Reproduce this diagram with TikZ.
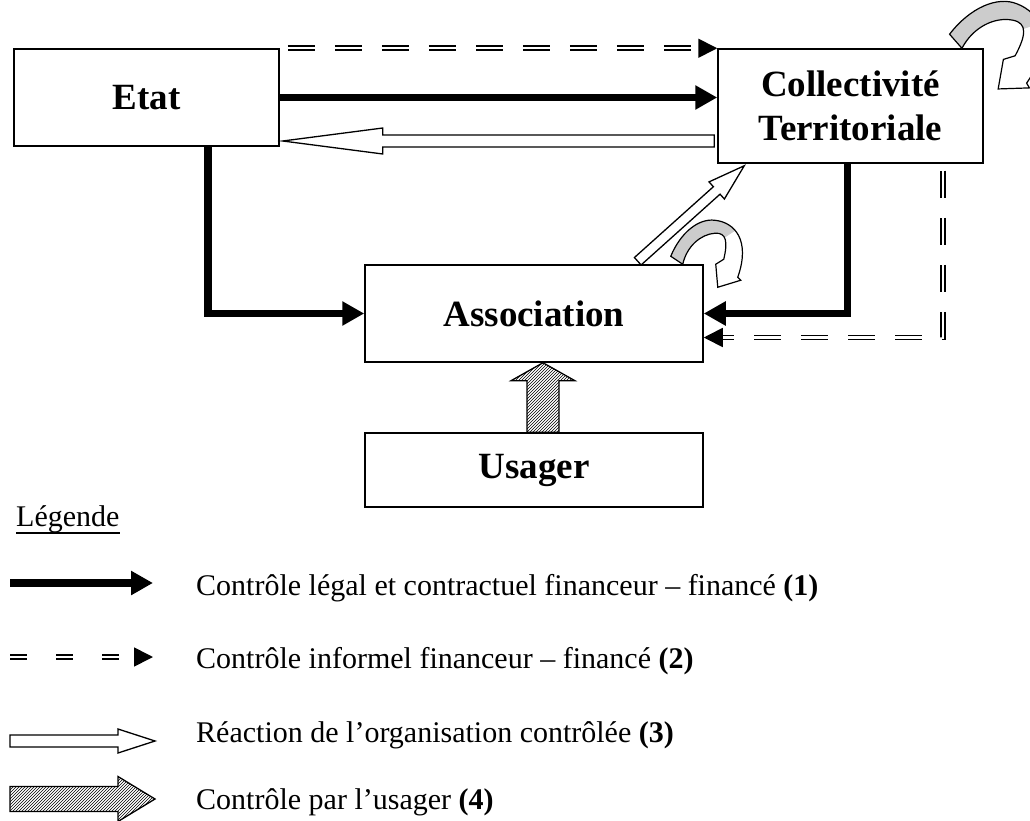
\documentclass[tikz,border=0pt]{standalone}
\usepackage{fontspec}
\setmainfont{Liberation Serif}
\usetikzlibrary{arrows.meta,calc,patterns}

\definecolor{curlgray}{gray}{0.8}

% outline of the curled arrow, local units, start of the band at the origin
\def\curlshape{(-6,4) .. controls (4,28) and (22,42) .. (38,40)
  .. controls (58,38) and (74,20) .. (61,-17) -- (64,-20) -- (41,-27) -- (39,-4) -- (47,1)
  .. controls (51,18) and (50,28) .. (38,27) .. controls (24,26) and (10,14) .. (6,-4) -- cycle}

% wide arrow: [style]{tail}{tip}{half shaft}{half head}{head length}
\newcommand\fatarrow[6][]{%
  \coordinate (fatbase) at ($(#3)!#6!(#2)$);
  \draw[#1] ($(#2)!#4!-90:(#3)$) -- ($(fatbase)!#4!-90:(#3)$) -- ($(fatbase)!#5!-90:(#3)$) -- (#3)
    -- ($(fatbase)!#5!90:(#3)$) -- ($(fatbase)!#4!90:(#3)$) -- ($(#2)!#4!90:(#3)$) -- cycle;
}

\tikzset{curl/.pic={
    \fill[white] \curlshape;
    \begin{scope}
      \clip (-20,-10) -- (22,-10) -- (44,20) -- (62,32) -- (62,60) -- (-20,60) -- cycle;
      \fill[curlgray] \curlshape;
    \end{scope}
    \draw[line width=1.2pt] \curlshape;
}}

\begin{document}
\begin{tikzpicture}[x=1pt,y=1pt]
        \tikzstyle{boxnode}=[draw, line width=1.5pt, inner sep=0pt, align=center, font=\bfseries\fontsize{37}{44}\selectfont]
        \tikzstyle{legtext}=[inner sep=0pt, anchor=base west, font=\fontsize{30}{36}\selectfont]
        \tikzstyle{legal}=[line width=7.5pt, -{Triangle[length=22pt,width=23pt]}]
        \tikzstyle{informal}=[double, line width=1.7pt, double distance=2.2pt, dash pattern=on 27pt off 20pt, -{Triangle[length=19pt,width=19pt]}]
        \tikzstyle{hollow}=[draw, fill=white, line width=1.3pt]
        \tikzstyle{hatched}=[draw, pattern=north east lines, line width=1.3pt]
        \useasboundingbox (0,0) rectangle (1030,-821);
        % boxes
        \node[boxnode, minimum width=265pt, minimum height=97pt] (etat) at (146.5,-97.5) {Etat};
        \node[boxnode, minimum width=265pt, minimum height=114pt] (coll) at (850.5,-106) {Collectivité\\Territoriale};
        \node[boxnode, minimum width=338pt, minimum height=97pt] (assoc) at (534,-313.5) {Association};
        \node[boxnode, minimum width=338pt, minimum height=74pt] (usager) at (534,-470) {Usager};
        % controls
        \draw[informal] ([xshift=8pt]etat.north east) -- (coll.north west);
        \draw[legal] (etat.east) -- (etat.east -| coll.west);
        \draw[legal] ([xshift=-72pt]etat.south east) |- (assoc.west);
        \draw[legal] ([xshift=-3pt]coll.south) |- (assoc.east);
        \draw[informal] ([xshift=-41pt,yshift=-7pt]coll.south east) |- ([yshift=-24pt]assoc.east);
        % reactions
        \coordinate (backT) at ([xshift=-3pt,yshift=-35pt]coll.west);
        \path (backT -| etat.east) ++(3,0) coordinate (backH);
        \fatarrow[hollow]{backT}{backH}{6pt}{13pt}{100pt}
        \coordinate (reacT) at ([xshift=-66pt,yshift=3pt]assoc.north east);
        \coordinate (reacH) at ([xshift=27pt,yshift=-2pt]coll.south west);
        \fatarrow[hollow]{reacT}{reacH}{5pt}{11.5pt}{37pt}
        \pic[rotate=-15, scale=1.3] at ([xshift=-28pt,yshift=7pt]coll.north east) {curl};
        \pic at ([xshift=-27pt,yshift=4pt]assoc.north east) {curl};
        % usager
        \coordinate (userT) at ([xshift=9pt]usager.north);
        \coordinate (userH) at ([xshift=9pt]assoc.south);
        \fatarrow[hatched]{userT}{userH}{16pt}{32pt}{18pt}
        % legend
        \node[legtext] (leg) at (16,-526) {Légende};
        \draw[line width=1.3pt] ([yshift=-7pt]leg.base west) -- ([yshift=-7pt]leg.base east);
        \node[legtext] (item1) at (196,-595) {Contrôle légal et contractuel financeur – financé \textbf{(1)}};
        \node[legtext] (item2) at (196,-668) {Contrôle informel financeur – financé \textbf{(2)}};
        \node[legtext] (item3) at (196,-742) {Réaction de l’organisation contrôlée \textbf{(3)}};
        \node[legtext] (item4) at (196,-809) {Contrôle par l’usager \textbf{(4)}};
        \coordinate (l1a) at (10,-583); \coordinate (l1b) at (153,-583);
        \coordinate (l2a) at (10,-657); \coordinate (l2b) at (153,-657);
        \coordinate (l3a) at (10,-741); \coordinate (l3b) at (155,-741);
        \coordinate (l4a) at (10,-799); \coordinate (l4b) at (155,-799);
        \draw[legal] (l1a) -- (l1b);
        \draw[informal, dash pattern=on 17pt off 29pt] (l2a) -- (l2b);
        \fatarrow[hollow]{l3a}{l3b}{6pt}{12pt}{37pt}
        \fatarrow[hatched]{l4a}{l4b}{12.5pt}{22.5pt}{37pt}
\end{tikzpicture}
\end{document}
